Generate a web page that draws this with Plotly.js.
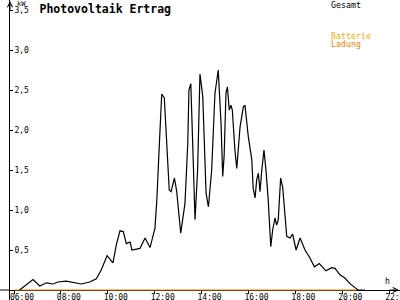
<!DOCTYPE html>
<html>
<head>
<meta charset="utf-8">
<script src="https://cdn.plot.ly/plotly-3.0.1.min.js"></script>
<style>html,body{margin:0;padding:0;background:#fff;}#chart{width:400px;height:300px;}</style>
</head>
<body>
<div id="chart"></div>
<script>
// Time of day in decimal hours, Gesamt power in kW
const gesamtHours = [6.24,6.51,6.81,7.10,7.38,7.66,7.88,8.23,8.66,8.87,9.23,9.51,9.72,9.97,10.22,10.36,10.52,10.66,10.79,10.95,11.03,11.37,11.59,11.80,12.01,12.09,12.20,12.30,12.41,12.51,12.62,12.70,12.84,12.94,13.11,13.29,13.41,13.46,13.54,13.62,13.72,13.83,13.93,14.05,14.19,14.29,14.43,14.57,14.71,14.83,14.90,14.96,15.04,15.10,15.18,15.25,15.31,15.42,15.50,15.64,15.78,15.85,15.99,16.14,16.20,16.28,16.35,16.42,16.49,16.56,16.66,16.75,16.84,16.95,17.03,17.13,17.20,17.27,17.37,17.46,17.56,17.63,17.77,17.88,18.03,18.20,18.41,18.62,18.81,19.02,19.30,19.55,19.69,19.90,20.11,20.33,20.54,20.67,20.97];
const gesamtKW = [0,0.06,0.13,0.05,0.09,0.075,0.10,0.11,0.09,0.075,0.10,0.14,0.25,0.43,0.34,0.56,0.74,0.73,0.58,0.60,0.50,0.52,0.65,0.53,0.77,1.12,1.83,2.45,2.40,1.83,1.25,1.23,1.40,1.23,0.71,1.08,1.83,2.50,2.58,1.83,0.88,1.50,2.70,2.42,1.21,1.04,1.50,2.46,2.75,2.08,1.42,1.67,2.46,2.54,2.25,2.31,2.25,1.75,1.52,2.04,2.29,2.31,1.92,1.63,1.27,1.15,1.38,1.46,1.23,1.48,1.75,1.48,1.13,0.54,0.75,0.90,0.81,0.88,1.40,1.28,0.85,0.67,0.65,0.70,0.50,0.65,0.50,0.40,0.29,0.33,0.24,0.28,0.27,0.19,0.15,0.08,0.03,0,0];
// Ladung (battery charging) series
const ladungHours = [6.0, 20.6];
const ladungKW = [0, 0];

const xTickVals = [6,8,10,12,14,16,18,20,22];
const xTickText = ['06:00','08:00','10:00','12:00','14:00','16:00','18:00','20:00','22:00'];
const yTickVals = [0.5,1.0,1.5,2.0,2.5,3.0,3.5];
const yTickText = ['0,5','1,0','1,5','2,0','2,5','3,0','3,5'];
const legendNames = ['Gesamt','Batterie','Ladung'];

const FONT = 'DejaVu Sans Mono';
const xRange = [5.8294, 22.4606];
const yRange = [-0.125, 3.625];
const zeroPos = 0.125 / 3.75;

const traces = [
  {x: ladungHours, y: ladungKW, mode:'lines', line:{color:'#ff8000', width:1.2}, hoverinfo:'skip', showlegend:false},
  {x: gesamtHours, y: gesamtKW, mode:'lines', line:{color:'#000000', width:1.2}, hoverinfo:'skip', showlegend:false}
];

function px(x){return (x-10)/390;}
function py(y){return (300-y)/300;}

const layout = {
  width:400, height:300,
  margin:{l:10, r:0, t:0, b:0, pad:0},
  paper_bgcolor:'#fff', plot_bgcolor:'#fff',
  showlegend:false,
  title:{text:'<b>Photovoltaik Ertrag</b>', font:{family:FONT, size:11.5, color:'#000'},
         xref:'container', x:39.5/400, xanchor:'left', yref:'container', y:1-8.5/300, yanchor:'middle'},
  xaxis:{range:xRange, anchor:'free', position:zeroPos, showgrid:false, zeroline:false, showline:false,
         tickmode:'array', tickvals:xTickVals, ticktext:xTickText, ticks:'outside', ticklen:3, tickcolor:'#000',
         ticklabelshift:8, ticklabelstandoff:-4, ticklabeloverflow:'allow',
         tickfont:{family:FONT, size:8, color:'#000'}, fixedrange:true},
  xaxis2:{range:xRange, overlaying:'x', anchor:'free', position:zeroPos, side:'bottom', showgrid:false, zeroline:false, showline:false,
         tickmode:'array', tickvals:xTickVals, ticks:'inside', ticklen:3, tickcolor:'#000', showticklabels:false},
  yaxis:{range:yRange, showgrid:false, zeroline:true, zerolinecolor:'#000', zerolinewidth:1,
         showline:true, linecolor:'#000', linewidth:1,
         tickmode:'array', tickvals:yTickVals, ticktext:yTickText, ticks:'inside', ticklen:3, tickcolor:'#000',
         ticklabelposition:'inside', ticklabeloverflow:'allow', tickfont:{family:FONT, size:8, color:'#000'}, fixedrange:true},
  yaxis2:{range:yRange, overlaying:'y', side:'left', showgrid:false, zeroline:false, showline:false,
         tickmode:'array', tickvals:yTickVals, ticks:'outside', ticklen:3, tickcolor:'#000', showticklabels:false},
  shapes:[
    {type:'line', xref:'paper', x0:px(0), x1:0, yref:'y', y0:0, y1:0, line:{color:'#000', width:1}}
  ],
  annotations:[
    {xref:'paper', yref:'paper', x:0, y:1, ax:0, ay:12, showarrow:true, arrowhead:5, arrowsize:1, arrowwidth:1, arrowcolor:'#000', text:''},
    {xref:'paper', yref:'y', x:1, y:0, ax:-12, ay:0, showarrow:true, arrowhead:5, arrowsize:1, arrowwidth:1, arrowcolor:'#000', text:''},
    {xref:'paper', yref:'paper', x:px(14.5), y:py(4), xanchor:'left', yanchor:'middle', showarrow:false, text:'kW', font:{family:FONT, size:7, color:'#000'}},
    {xref:'paper', yref:'paper', x:px(387), y:py(281), xanchor:'center', yanchor:'middle', showarrow:false, text:'h', font:{family:FONT, size:8, color:'#000'}},
    {xref:'paper', yref:'paper', x:px(329), y:py(4.7), xanchor:'left', yanchor:'middle', showarrow:false, text:legendNames[0], font:{family:FONT, size:8.3, color:'#000'}},
    {xref:'paper', yref:'paper', x:px(329), y:py(36), xanchor:'left', yanchor:'middle', showarrow:false, text:legendNames[1], font:{family:FONT, size:8.3, color:'#ffaa00'}},
    {xref:'paper', yref:'paper', x:px(329), y:py(43.7), xanchor:'left', yanchor:'middle', showarrow:false, text:legendNames[2], font:{family:FONT, size:8.3, color:'#ff8000'}}
  ]
};

Plotly.newPlot('chart', traces, layout, {staticPlot:true, displayModeBar:false});
</script>
</body>
</html>
